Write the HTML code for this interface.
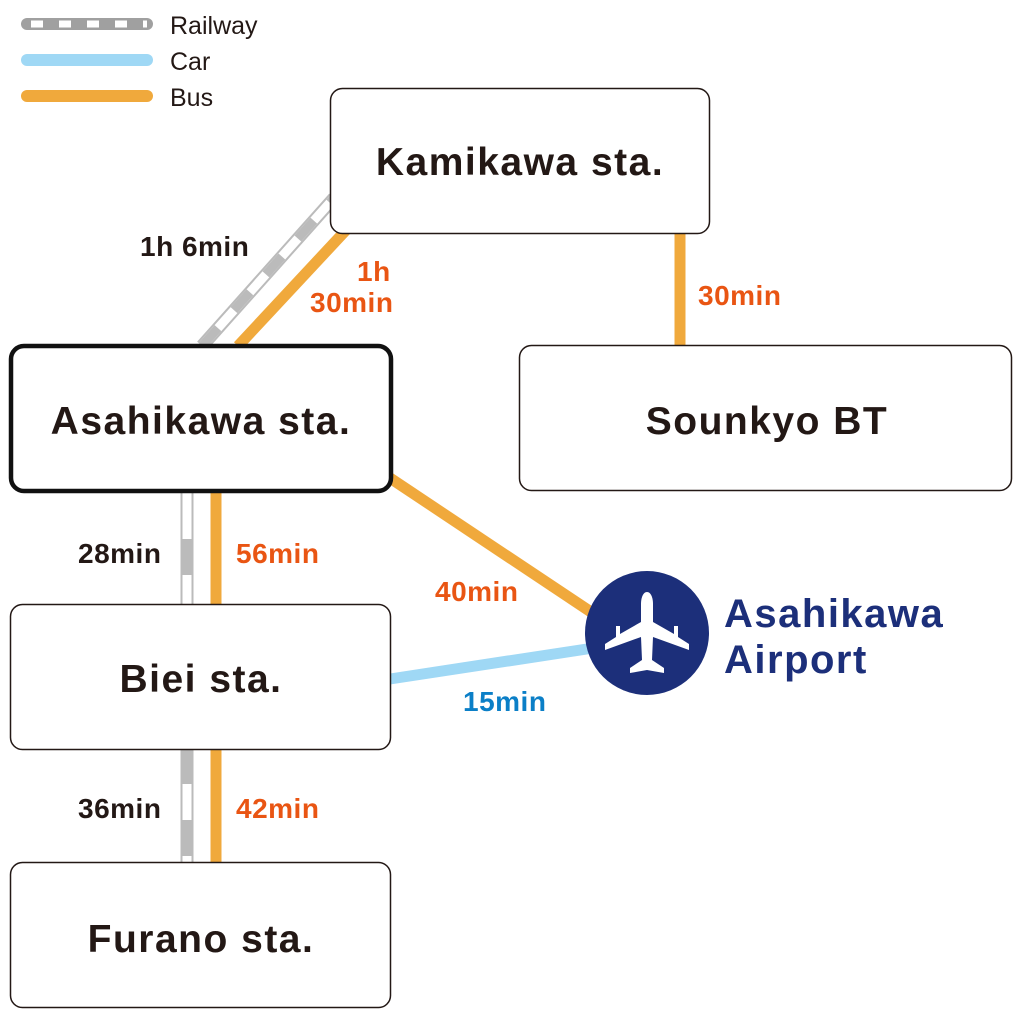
<!DOCTYPE html>
<html><head><meta charset="utf-8"><style>
html,body{margin:0;padding:0;background:#fff;}
svg{display:block}
text{font-family:"Liberation Sans","DejaVu Sans",sans-serif;}
</style></head><body>
<svg width="1020" height="1020" viewBox="0 0 1020 1020" xmlns="http://www.w3.org/2000/svg">
<!-- legend -->
<line x1="27" y1="24" x2="147" y2="24" stroke="#a0a0a0" stroke-width="12" stroke-linecap="round"/>
<line x1="27" y1="24" x2="147" y2="24" stroke="#fff" stroke-width="7" stroke-dasharray="12 16" stroke-dashoffset="-4"/>
<line x1="27" y1="60" x2="147" y2="60" stroke="#9fd8f5" stroke-width="12" stroke-linecap="round"/>
<line x1="27" y1="96" x2="147" y2="96" stroke="#f0a93c" stroke-width="12" stroke-linecap="round"/>
<text x="170" y="34" font-size="25" fill="#231815">Railway</text>
<text x="170" y="70" font-size="25" fill="#231815">Car</text>
<text x="170" y="106" font-size="25" fill="#231815">Bus</text>

<!-- rail diagonal -->
<line x1="202" y1="346" x2="334" y2="198" stroke="#bbb" stroke-width="13"/>
<line x1="202" y1="346" x2="334" y2="198" stroke="#fff" stroke-width="9"/>
<line x1="202" y1="346" x2="334" y2="198" stroke="#bbb" stroke-width="9" stroke-dasharray="24 24"/>
<line x1="238" y1="346" x2="348" y2="228" stroke="#f0a93c" stroke-width="11"/>
<!-- Kamikawa - Sounkyo -->
<line x1="680" y1="232" x2="680" y2="347" stroke="#f0a93c" stroke-width="11"/>
<!-- Asahikawa - Biei -->
<line x1="187" y1="490" x2="187" y2="606" stroke="#bbb" stroke-width="13"/>
<line x1="187" y1="490" x2="187" y2="606" stroke="#fff" stroke-width="9"/>
<line x1="187" y1="503" x2="187" y2="606" stroke="#bbb" stroke-width="9" stroke-dasharray="36 36" stroke-dashoffset="-36"/>
<line x1="216" y1="490" x2="216" y2="606" stroke="#f0a93c" stroke-width="11"/>
<!-- Biei - Furano -->
<line x1="187" y1="748" x2="187" y2="862" stroke="#bbb" stroke-width="13"/>
<line x1="187" y1="748" x2="187" y2="862" stroke="#fff" stroke-width="9"/>
<line x1="187" y1="748" x2="187" y2="862" stroke="#bbb" stroke-width="9" stroke-dasharray="36 36"/>
<line x1="216" y1="748" x2="216" y2="862" stroke="#f0a93c" stroke-width="11"/>
<!-- Asahikawa - airport -->
<line x1="390" y1="478" x2="600" y2="618" stroke="#f0a93c" stroke-width="11"/>
<line x1="390" y1="679" x2="600" y2="647" stroke="#9fd8f5" stroke-width="11"/>

<!-- boxes -->
<rect x="330.5" y="88.5" width="379" height="145" rx="12" fill="#fff" stroke="#231815" stroke-width="1.5"/>
<rect x="519.5" y="345.5" width="492" height="145" rx="12" fill="#fff" stroke="#231815" stroke-width="1.5"/>
<rect x="11" y="346" width="380" height="145" rx="13" fill="#fff" stroke="#111" stroke-width="4.5"/>
<rect x="10.5" y="604.5" width="380" height="145" rx="12" fill="#fff" stroke="#231815" stroke-width="1.5"/>
<rect x="10.5" y="862.5" width="380" height="145" rx="12" fill="#fff" stroke="#231815" stroke-width="1.5"/>

<g font-size="39" font-weight="bold" fill="#231815" text-anchor="middle" letter-spacing="1.5">
<text x="520" y="175">Kamikawa sta.</text>
<text x="767" y="434">Sounkyo BT</text>
<text x="201" y="434">Asahikawa sta.</text>
<text x="201" y="692">Biei sta.</text>
<text x="201" y="952">Furano sta.</text>
</g>

<g font-size="28" font-weight="bold" letter-spacing="0.5">
<text x="140" y="256" fill="#231815">1h 6min</text>
<text x="357" y="281" fill="#e95513">1h</text>
<text x="310" y="312" fill="#e95513">30min</text>
<text x="698" y="305" fill="#e95513">30min</text>
<text x="78" y="563" fill="#231815">28min</text>
<text x="236" y="563" fill="#e95513">56min</text>
<text x="435" y="601" fill="#e95513">40min</text>
<text x="463" y="711" fill="#0b7fc7">15min</text>
<text x="78" y="818" fill="#231815">36min</text>
<text x="236" y="818" fill="#e95513">42min</text>
</g>

<!-- airport -->
<circle cx="647" cy="633" r="62" fill="#1c2f7a"/>
<g fill="#fff">
<path d="M647 592 C651 592 653 598 653 604 L653 622 L674 634 L674 626 L678 626 L678 637 L689 644 L689 650 L653 637 L652 660 L664 668 L664 673 L647 670 L630 673 L630 668 L642 660 L641 637 L605 650 L605 644 L616 637 L616 626 L620 626 L620 634 L641 622 L641 604 C641 598 643 592 647 592 Z"/>
</g>
<g font-size="40" font-weight="bold" fill="#1c2f7a" letter-spacing="1.5">
<text x="724" y="627">Asahikawa</text>
<text x="724" y="673">Airport</text>
</g>
</svg>
</body></html>
